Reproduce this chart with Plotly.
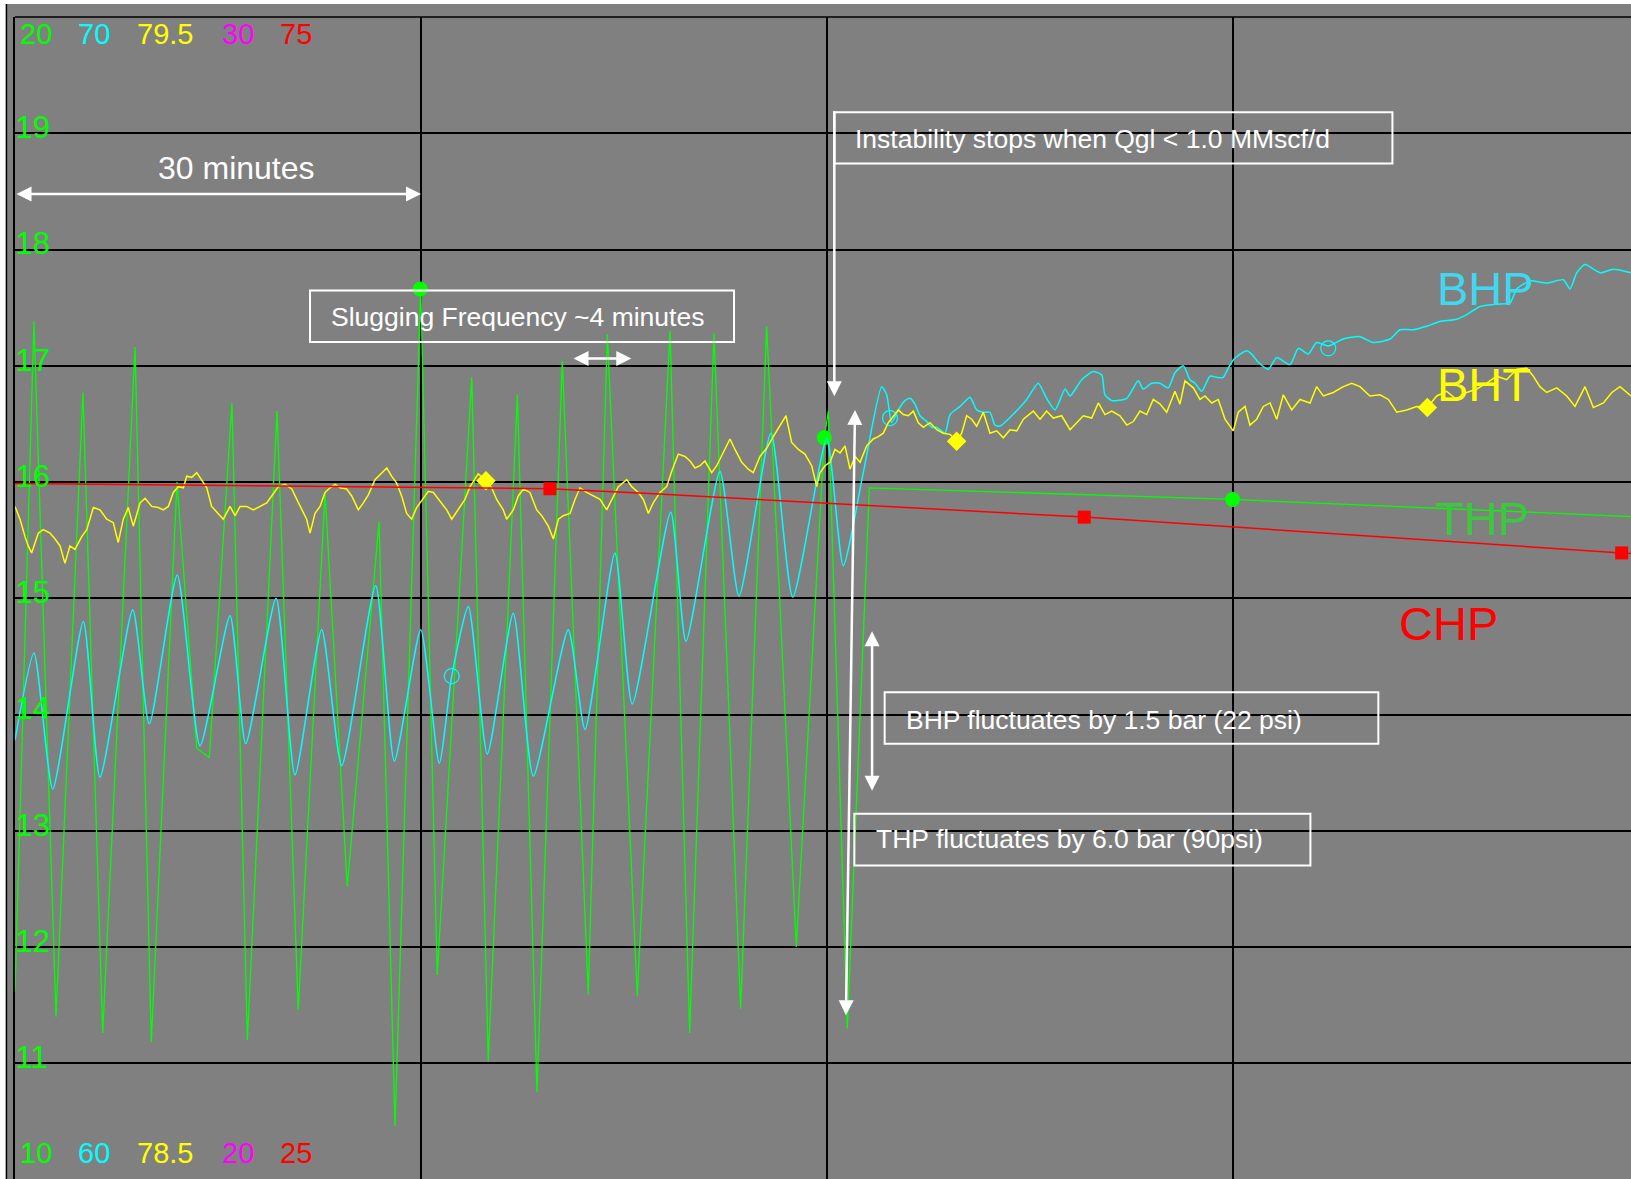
import plotly.graph_objects as go

# ---------------------------------------------------------------------------
# Well trend: gas-lift slugging, then stabilisation once gas-lift rate drops.
# Time in minutes from the start of the window (grid every 30 min).
# ---------------------------------------------------------------------------

# Tubing-head pressure, bar (green scale 10-20)
THP_T = [0.00, 1.40, 3.03, 5.02, 6.48, 8.87, 10.07, 11.97, 13.43, 14.36, 16.03, 17.17,
         19.36, 20.93, 22.91, 24.55, 26.90, 28.08, 29.98, 31.20, 33.75, 34.97, 37.12,
         38.57, 40.44, 42.36, 43.77, 45.98, 48.40, 49.85, 51.65, 53.62, 55.54, 57.73,
         59.80, 60.10, 61.50, 63.13, 89.97, 120.0]
THP_V = [11.62, 17.38, 11.40, 16.77, 11.26, 17.16, 11.18, 16.00, 13.71, 13.63, 16.68, 11.20,
         16.61, 11.46, 15.91, 12.52, 15.66, 10.46, 17.67, 11.76, 16.90, 11.02, 16.75,
         10.75, 17.04, 11.59, 17.27, 11.58, 17.30, 11.26, 17.28, 11.47, 17.34, 12.00,
         16.38, 16.61, 11.30, 15.95, 15.85, 15.70]

# Bottom-hole pressure, bar (cyan scale 60-70)
BHP_POINTS = [
    (0.00, 63.78), (1.40, 64.53), (2.79, 63.36), (5.05, 64.80), (6.28, 63.46), (8.70, 64.90),
    (9.92, 63.92), (11.99, 65.20), (13.67, 63.73), (15.89, 64.85), (17.05, 63.75), (19.29, 65.00),
    (20.69, 63.48), (22.66, 64.73), (24.14, 63.56), (26.65, 65.11), (28.03, 63.60), (29.98, 64.73),
    (31.35, 63.58), (32.27, 64.33), (33.50, 64.93), (34.90, 63.66), (36.82, 64.87), (38.30, 63.47),
    (40.88, 64.73), (42.12, 63.87), (44.33, 65.39), (45.61, 64.09), (48.45, 65.74), (49.58, 64.63),
    (52.09, 66.09), (53.50, 65.02), (55.86, 66.42), (57.47, 65.01), (59.98, 66.37), (61.20, 65.28),
    (62.68, 66.08), (64.04, 66.82), (64.41, 66.75), (64.78, 66.51), (65.27, 66.62), (65.76, 66.70),
    (66.13, 66.72), (66.50, 66.67), (66.87, 66.57), (67.37, 66.52), (67.74, 66.47), (68.11, 66.47),
    (68.72, 66.42), (69.09, 66.58), (69.83, 66.65), (70.57, 66.73), (71.06, 66.62), (71.55, 66.60),
    (72.04, 66.60), (72.41, 66.49), (72.78, 66.48), (73.74, 66.58), (74.76, 66.71), (75.61, 66.85),
    (76.23, 66.72), (76.85, 66.62), (77.59, 66.80), (77.96, 66.74), (78.82, 66.88), (79.68, 66.95),
    (80.30, 66.92), (80.54, 66.75), (81.04, 66.70), (82.15, 66.72), (83.00, 66.87), (83.37, 66.80),
    (83.99, 66.85), (84.61, 66.85), (85.22, 66.81), (85.71, 66.94), (86.33, 67.00), (86.82, 66.88),
    (87.19, 66.85), (87.69, 66.78), (88.30, 66.91), (88.80, 66.90), (89.28, 66.90), (89.65, 66.98),
    (90.02, 67.05), (90.52, 67.10), (91.01, 67.13), (91.38, 67.10), (91.87, 67.03), (92.61, 66.97),
    (93.23, 67.07), (94.21, 67.01), (94.83, 67.15), (95.56, 67.10), (96.18, 67.20), (97.04, 67.17),
    (98.15, 67.23), (99.38, 67.25), (100.37, 67.20), (101.60, 67.23), (102.34, 67.31),
    (103.32, 67.31), (104.31, 67.34), (105.30, 67.38), (106.53, 67.40), (107.27, 67.44),
    (108.25, 67.51), (109.48, 67.53), (110.47, 67.54), (110.96, 67.66), (111.95, 67.73),
    (113.18, 67.71), (114.41, 67.74), (114.90, 67.66), (115.40, 67.80), (116.01, 67.87),
    (117.12, 67.80), (118.10, 67.83), (119.41, 67.80),
]

# Bottom-hole temperature, degC (yellow scale 78.5-79.5)
BHT_POINTS = [
    (0.00, 79.079), (0.37, 79.068), (0.74, 79.053), (0.98, 79.045), (1.23, 79.039), (1.48, 79.048),
    (1.72, 79.056), (2.09, 79.059), (2.59, 79.056), (2.96, 79.051), (3.33, 79.045), (3.69, 79.030),
    (4.06, 79.045), (4.43, 79.042), (4.93, 79.053), (5.30, 79.059), (5.79, 79.078), (6.28, 79.076),
    (6.78, 79.068), (7.26, 79.065), (7.63, 79.048), (8.00, 79.068), (8.37, 79.078), (8.74, 79.062),
    (9.24, 79.082), (9.61, 79.086), (10.10, 79.079), (10.59, 79.078), (10.96, 79.076),
    (11.33, 79.079), (11.70, 79.091), (12.07, 79.096), (12.44, 79.095), (12.69, 79.105),
    (13.06, 79.104), (13.43, 79.108), (13.80, 79.102), (14.17, 79.095), (14.53, 79.079),
    (15.02, 79.073), (15.39, 79.068), (15.89, 79.079), (16.26, 79.071), (16.63, 79.079),
    (17.12, 79.079), (17.61, 79.076), (18.10, 79.079), (18.60, 79.082), (18.97, 79.088),
    (19.46, 79.096), (19.95, 79.098), (20.45, 79.094), (20.82, 79.085), (21.18, 79.076),
    (21.55, 79.068), (21.80, 79.056), (22.17, 79.073), (22.54, 79.079), (22.91, 79.091),
    (23.28, 79.095), (23.65, 79.098), (24.01, 79.095), (24.51, 79.094), (24.88, 79.088),
    (25.37, 79.076), (25.74, 79.082), (26.11, 79.089), (26.60, 79.102), (27.10, 79.108),
    (27.47, 79.112), (27.83, 79.105), (28.20, 79.099), (28.57, 79.088), (28.94, 79.073),
    (29.31, 79.068), (29.68, 79.078), (30.05, 79.084), (30.54, 79.092), (30.91, 79.091),
    (31.40, 79.084), (31.90, 79.076), (32.27, 79.068), (32.76, 79.076), (33.25, 79.085),
    (33.62, 79.096), (34.23, 79.107), (34.73, 79.102), (35.22, 79.095), (35.59, 79.085),
    (36.08, 79.076), (36.33, 79.068), (36.82, 79.076), (37.19, 79.088), (37.56, 79.094),
    (38.05, 79.091), (38.55, 79.076), (38.92, 79.071), (39.41, 79.062), (39.78, 79.051),
    (40.15, 79.068), (40.51, 79.071), (41.01, 79.073), (41.38, 79.085), (41.75, 79.095),
    (42.24, 79.091), (42.73, 79.088), (43.23, 79.085), (43.72, 79.076), (44.09, 79.085),
    (44.58, 79.096), (45.20, 79.102), (45.57, 79.096), (46.06, 79.091), (46.43, 79.085),
    (46.80, 79.073), (47.16, 79.082), (47.66, 79.091), (48.15, 79.096), (48.52, 79.109),
    (49.01, 79.124), (49.51, 79.122), (49.88, 79.118), (50.25, 79.112), (50.62, 79.114),
    (50.98, 79.118), (51.48, 79.108), (51.85, 79.114), (52.34, 79.125), (52.83, 79.137),
    (53.20, 79.128), (53.70, 79.117), (54.18, 79.111), (54.55, 79.108), (55.05, 79.122),
    (55.54, 79.129), (56.03, 79.139), (56.53, 79.148), (56.97, 79.157), (57.39, 79.134),
    (57.88, 79.128), (58.37, 79.124), (58.87, 79.114), (59.24, 79.096), (59.48, 79.108),
    (59.85, 79.114), (60.22, 79.117), (60.59, 79.128), (60.96, 79.125), (61.33, 79.131),
    (61.70, 79.111), (62.07, 79.122), (62.44, 79.117), (62.93, 79.131), (63.42, 79.137),
    (63.79, 79.139), (64.16, 79.142), (64.53, 79.151), (64.90, 79.157), (65.27, 79.162),
    (65.64, 79.158), (66.01, 79.157), (66.38, 79.161), (66.75, 79.151), (67.12, 79.147),
    (67.61, 79.151), (68.11, 79.145), (68.59, 79.142), (69.09, 79.141), (69.58, 79.135),
    (69.95, 79.142), (70.32, 79.157), (70.69, 79.154), (71.06, 79.148), (71.55, 79.160),
    (72.04, 79.142), (72.54, 79.144), (73.03, 79.138), (73.52, 79.145), (74.02, 79.144),
    (74.51, 79.154), (75.24, 79.161), (75.74, 79.154), (76.23, 79.161), (76.72, 79.155),
    (77.34, 79.157), (77.96, 79.145), (78.45, 79.151), (78.94, 79.157), (79.56, 79.155),
    (80.05, 79.168), (80.54, 79.158), (81.04, 79.161), (81.65, 79.157), (82.15, 79.149),
    (82.63, 79.152), (83.13, 79.161), (83.62, 79.158), (84.11, 79.171), (84.61, 79.167),
    (85.10, 79.160), (85.71, 79.178), (86.08, 79.167), (86.45, 79.187), (87.07, 79.181),
    (87.56, 79.171), (87.93, 79.174), (88.43, 79.168), (88.91, 79.171), (89.41, 79.154),
    (89.78, 79.148), (90.02, 79.144), (90.39, 79.160), (90.89, 79.165), (91.25, 79.149),
    (91.75, 79.154), (92.24, 79.165), (92.74, 79.168), (93.23, 79.154), (93.72, 79.175),
    (94.34, 79.162), (94.95, 79.171), (95.69, 79.168), (96.18, 79.182), (96.67, 79.174),
    (97.41, 79.177), (98.15, 79.182), (98.77, 79.185), (99.38, 79.182), (100.12, 79.174),
    (100.86, 79.175), (101.48, 79.171), (102.10, 79.160), (102.84, 79.162), (103.57, 79.165),
    (104.36, 79.164), (105.05, 79.174), (105.79, 79.178), (106.53, 79.171), (107.27, 79.177),
    (108.01, 79.180), (108.75, 79.185), (109.48, 79.191), (110.22, 79.188), (110.96, 79.197),
    (111.70, 79.198), (112.19, 79.191), (112.68, 79.182), (113.18, 79.177), (113.92, 79.181),
    (114.66, 79.174), (115.27, 79.165), (116.01, 79.182), (116.63, 79.164), (117.37, 79.168),
    (117.99, 79.177), (118.60, 79.182), (119.41, 79.174),
]

# Casing-head pressure, bar (red scale 25-75)
CHP_T = [0.0, 39.53, 46.90, 79.01, 118.72, 120.0]
CHP_V = [54.94, 54.71, 54.50, 53.49, 51.95, 51.90]

# Symbols plotted on every n-th sample of each channel
THP_MK_T = [29.94, 59.80, 89.97]
THP_MK_V = [17.66, 16.38, 15.85]
BHP_MK_T = [32.27, 64.66, 97.04]
BHP_MK_V = [64.33, 66.55, 67.15]
BHT_MK_T = [34.80, 69.58, 104.36]
BHT_MK_V = [79.101, 79.135, 79.164]
CHP_MK_T = [39.53, 79.01, 118.72]
CHP_MK_V = [54.71, 53.49, 51.95]

# Scale end labels per channel (top = max, bottom = min)
SCALE_COLORS = ["#00FF00", "#00FFFF", "#FFFF00", "#FF00FF", "#FF0000"]
SCALE_TOP = ["20", "70", "79.5", "30", "75"]
SCALE_BOTTOM = ["10", "60", "78.5", "20", "25"]
GRID_TICKS = [11, 12, 13, 14, 15, 16, 17, 18, 19]

FONT = "Arial, Liberation Sans, sans-serif"
GRAY = "#808080"

BHP_T = [p[0] for p in BHP_POINTS]
BHP_V = [p[1] for p in BHP_POINTS]
BHT_T = [p[0] for p in BHT_POINTS]
BHT_V = [p[1] for p in BHT_POINTS]

fig = go.Figure()

fig.add_trace(go.Scatter(x=THP_T, y=THP_V, mode="lines", yaxis="y",
                         line=dict(color="#00FF00", width=1.3), hoverinfo="skip"))
fig.add_trace(go.Scatter(x=BHP_T, y=BHP_V, mode="lines", yaxis="y2",
                         line=dict(color="#00FFFF", width=1.5, shape="spline", smoothing=0.6),
                         hoverinfo="skip"))
fig.add_trace(go.Scatter(x=CHP_T, y=CHP_V, mode="lines", yaxis="y4",
                         line=dict(color="#FF0000", width=1.5), hoverinfo="skip"))
fig.add_trace(go.Scatter(x=BHT_T, y=BHT_V, mode="lines", yaxis="y3",
                         line=dict(color="#FFFF00", width=1.5), hoverinfo="skip"))

fig.add_trace(go.Scatter(x=THP_MK_T, y=THP_MK_V, mode="markers", yaxis="y",
                         marker=dict(symbol="circle", size=15, color="#00FF00"), hoverinfo="skip"))
fig.add_trace(go.Scatter(x=BHP_MK_T, y=BHP_MK_V, mode="markers", yaxis="y2",
                         marker=dict(symbol="circle-open", size=15, color="#00FFFF",
                                     line=dict(width=1.2)), hoverinfo="skip"))
fig.add_trace(go.Scatter(x=BHT_MK_T, y=BHT_MK_V, mode="markers", yaxis="y3",
                         marker=dict(symbol="diamond", size=15, color="#FFFF00"), hoverinfo="skip"))
fig.add_trace(go.Scatter(x=CHP_MK_T, y=CHP_MK_V, mode="markers", yaxis="y4",
                         marker=dict(symbol="square", size=13, color="#FF0000"), hoverinfo="skip"))

# ---- scale end labels --------------------------------------------------------
label_x = [0.0019, 0.0378, 0.0743, 0.1269, 0.1628]
annotations = []
for txt_top, txt_bot, col, px in zip(SCALE_TOP, SCALE_BOTTOM, SCALE_COLORS, label_x):
    annotations.append(dict(text=txt_top, x=px, y=0.9854, xref="paper", yref="paper",
                            xanchor="left", yanchor="middle", showarrow=False,
                            font=dict(family=FONT, size=29, color=col)))
    annotations.append(dict(text=txt_bot, x=px, y=0.0224, xref="paper", yref="paper",
                            xanchor="left", yanchor="middle", showarrow=False,
                            font=dict(family=FONT, size=29, color=col)))

# ---- channel names -----------------------------------------------------------
for name, col, xx, yy in [("BHP", "#40D8F0", 104.9, 17.667), ("BHT", "#FFFF00", 104.9, 16.839),
                          ("THP", "#3CC83C", 104.75, 15.690), ("CHP", "#FF0000", 102.15, 14.783)]:
    annotations.append(dict(text=name, x=xx, y=yy, xref="x", yref="y", xanchor="left",
                            yanchor="middle", showarrow=False,
                            font=dict(family=FONT, size=47, color=col)))

# ---- callout texts -------------------------------------------------------------
white_font = dict(family=FONT, size=26.5, color="white")
for txt, xx, yy in [("Slugging Frequency ~4 minutes", 23.18, 17.419),
                    ("Instability stops when Qgl < 1.0 MMscf/d", 61.90, 18.951),
                    ("BHP fluctuates by 1.5 bar (22 psi)", 65.67, 13.950),
                    ("THP fluctuates by 6.0 bar (90psi)", 63.50, 12.925)]:
    annotations.append(dict(text=txt, x=xx, y=yy, xref="x", yref="y", xanchor="left",
                            yanchor="middle", showarrow=False, font=white_font))
annotations.append(dict(text="30 minutes", x=16.33, y=18.701, xref="x", yref="y",
                        xanchor="center", yanchor="middle", showarrow=False,
                        font=dict(family=FONT, size=32, color="white")))

# ---- arrows ------------------------------------------------------------------
def arrow(x0, y0, x1, y1, both=True):
    d = dict(text="", x=x1, y=y1, ax=x0, ay=y0, xref="x", yref="y", axref="x", ayref="y",
             showarrow=True, arrowcolor="white", arrowwidth=2.5, arrowhead=2, arrowsize=1.2,
             standoff=0, startstandoff=0)
    if both:
        d.update(arrowside="end+start", startarrowhead=2, startarrowsize=1.2)
    return d

annotations += [
    arrow(0.0, 18.477, 30.0, 18.477),          # 30-minute span
    arrow(41.16, 17.063, 45.54, 17.063),       # one slug period
    arrow(60.54, 19.204, 60.54, 16.738, both=False),
    arrow(61.40, 11.40, 62.07, 16.62),         # THP swing
    arrow(63.33, 13.332, 63.33, 14.717),       # BHP swing
]

# ---- frames, boxes and page edge --------------------------------------------------
box_line = dict(color="white", width=2)
shapes = [
    dict(type="rect", xref="x", yref="y", x0=21.80, x1=53.13, y0=17.204, y1=17.647, line=box_line),
    dict(type="rect", xref="x", yref="y", x0=60.55, x1=101.78, y0=18.740, y1=19.181, line=box_line),
    dict(type="rect", xref="x", yref="y", x0=64.26, x1=100.74, y0=13.748, y1=14.192, line=box_line),
    dict(type="rect", xref="x", yref="y", x0=62.02, x1=95.72, y0=12.701, y1=13.146, line=box_line),
    # plot frame (top edge)
    dict(type="line", xref="paper", yref="paper", x0=0, x1=1.01, y0=1, y1=1,
         line=dict(color="black", width=1.5)),
    # page edge strips
    dict(type="rect", xref="paper", yref="paper", x0=-0.0100, x1=-0.0056, y0=-0.01, y1=1.02,
         fillcolor="white", line=dict(width=0), layer="above"),
    dict(type="rect", xref="paper", yref="paper", x0=-0.0100, x1=1.01, y0=1.0112, y1=1.02,
         fillcolor="white", line=dict(width=0), layer="above"),
    dict(type="line", xref="paper", yref="paper", x0=-0.0053, x1=-0.0053, y0=-0.01, y1=1.0112,
         line=dict(color="black", width=1.5)),
]

fig.update_layout(
    width=1631, height=1179, autosize=False,
    margin=dict(l=15, r=0, t=17, b=0, pad=0),
    paper_bgcolor=GRAY, plot_bgcolor=GRAY,
    showlegend=False,
    font=dict(family=FONT),
    xaxis=dict(range=[0, 119.409], tickvals=[30, 60, 90], showticklabels=False, ticks="",
               showgrid=True, gridcolor="black", gridwidth=1.5, zeroline=False, showline=False),
    yaxis=dict(range=[10.0043, 20], tickvals=GRID_TICKS, showgrid=True, gridcolor="black",
               gridwidth=1.5, zeroline=False, showline=True, linecolor="black", linewidth=1.5,
               ticks="", ticklabelposition="inside", ticklabelstandoff=4, ticklabelshift=-6,
               tickfont=dict(family=FONT, size=31, color="#00FF00")),
    yaxis2=dict(range=[60.0043, 70], overlaying="y", visible=False),
    yaxis3=dict(range=[78.50043, 79.5], overlaying="y", visible=False),
    yaxis4=dict(range=[25.0215, 75], overlaying="y", visible=False),
    annotations=annotations,
    shapes=shapes,
)

fig.write_html("out.html", config={"displayModeBar": False})
